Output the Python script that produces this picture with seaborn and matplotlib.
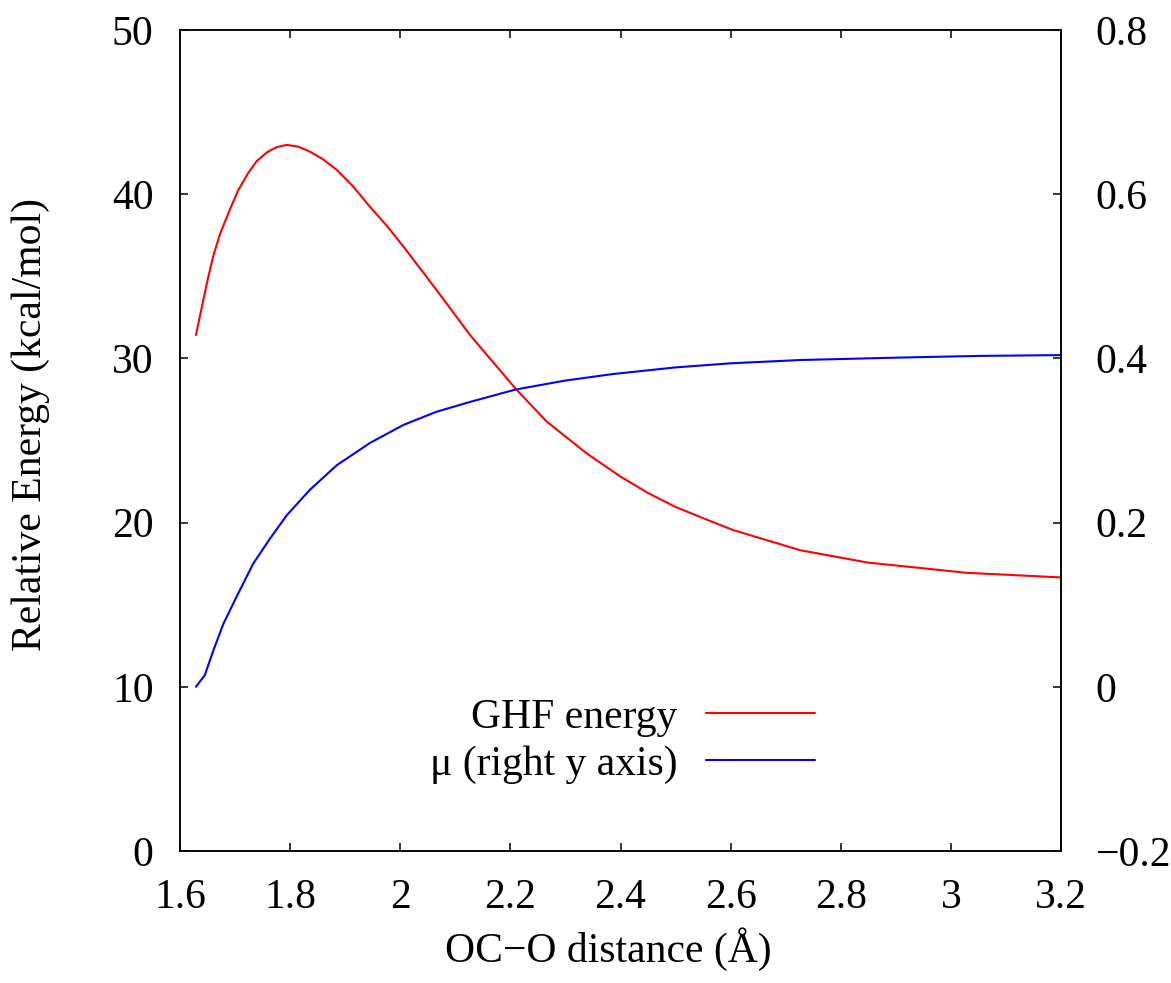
import matplotlib
matplotlib.use("Agg")
import matplotlib.pyplot as plt
from matplotlib.ticker import FuncFormatter
import seaborn as sns
import pandas as pd

# GHF relative energy along the OC-O stretch (kcal/mol)
dist_energy = [1.629, 1.642, 1.651, 1.661, 1.673, 1.691, 1.706, 1.724, 1.739,
               1.758, 1.776, 1.794, 1.815, 1.836, 1.860, 1.885, 1.915, 1.945,
               1.976, 2.006, 2.066, 2.127, 2.209, 2.266, 2.339, 2.40, 2.45,
               2.50, 2.555, 2.605, 2.726, 2.848, 3.029, 3.2]
ghf_energy = [31.42, 33.50, 34.90, 36.30, 37.60, 39.10, 40.25, 41.30, 42.00,
              42.55, 42.87, 43.00, 42.89, 42.59, 42.12, 41.47, 40.45, 39.23,
              38.06, 36.80, 34.16, 31.41, 28.17, 26.15, 24.20, 22.80, 21.80,
              20.95, 20.20, 19.54, 18.32, 17.57, 16.94, 16.66]

# mu along the same coordinate (right axis)
dist_mu = [1.629, 1.645, 1.661, 1.679, 1.703, 1.733, 1.764, 1.794, 1.836,
           1.885, 1.945, 2.006, 2.066, 2.127, 2.209, 2.30, 2.387, 2.50,
           2.60, 2.726, 2.908, 3.05, 3.2]
mu_values = [0.0, 0.014, 0.045, 0.077, 0.110, 0.150, 0.181, 0.209, 0.240,
             0.270, 0.297, 0.319, 0.335, 0.347, 0.362, 0.373, 0.381, 0.389,
             0.394, 0.398, 0.401, 0.403, 0.404]

x_ticks = [1.6, 1.8, 2.0, 2.2, 2.4, 2.6, 2.8, 3.0, 3.2]
y_ticks = [0, 10, 20, 30, 40, 50]
y2_ticks = [-0.2, 0.0, 0.2, 0.4, 0.6, 0.8]

sns.set_theme(style="ticks")
plt.rcParams["font.family"] = ["Liberation Serif", "DejaVu Serif"]
plt.rcParams["axes.unicode_minus"] = True
plt.rcParams["text.color"] = "black"
plt.rcParams["axes.labelcolor"] = "black"
plt.rcParams["xtick.color"] = "black"
plt.rcParams["ytick.color"] = "black"
plt.rcParams["axes.edgecolor"] = "black"

FS = 30

fig = plt.figure(figsize=(11.71, 9.83), dpi=100)
ax = fig.add_axes([0.1537, 0.1343, 0.9061 - 0.1537, 0.9695 - 0.1343])
ax2 = ax.twinx()

df_e = pd.DataFrame({"d": dist_energy, "E": ghf_energy})
df_m = pd.DataFrame({"d": dist_mu, "mu": mu_values})

sns.lineplot(data=df_e, x="d", y="E", ax=ax, color="#ff0000", lw=1.5,
             label="GHF energy", legend=False)
sns.lineplot(data=df_m, x="d", y="mu", ax=ax2, color="#0000ff", lw=1.5,
             label="μ (right y axis)", legend=False)

ax.set_xlim(1.6, 3.2)
ax.set_ylim(0, 50)
ax2.set_ylim(-0.2, 0.8)
ax.set_xticks(x_ticks)
ax.set_yticks(y_ticks)
ax2.set_yticks(y2_ticks)


def fmt(v, _pos):
    return ("%g" % round(v, 6)).replace("-", "\u2212")


for a in (ax.xaxis, ax.yaxis, ax2.yaxis):
    a.set_major_formatter(FuncFormatter(fmt))

for a in (ax, ax2):
    for sp in a.spines.values():
        sp.set_visible(True)
        sp.set_linewidth(1.1)
        sp.set_color("black")

ax.tick_params(axis="x", which="major", direction="in", length=6, width=1.1,
               labelsize=FS, pad=20, top=True, bottom=True, colors="black")
ax.tick_params(axis="y", which="major", direction="in", length=6, width=1.1,
               labelsize=FS, pad=19, left=True, right=False, colors="black")
ax2.tick_params(axis="y", which="major", direction="in", length=6, width=1.1,
                labelsize=FS, pad=25, right=True, left=False, colors="black")

ax.set_xlabel("OC\u2212O distance (Å)", fontsize=FS, color="black")
ax.set_ylabel("Relative Energy (kcal/mol)", fontsize=FS, color="black")
ax2.set_ylabel("")
ax.xaxis.set_label_coords(0.486, -0.093)
ax.yaxis.set_label_coords(-0.148, 0.519)

handles = ax.get_legend_handles_labels()[0] + ax2.get_legend_handles_labels()[0]
labels = ax.get_legend_handles_labels()[1] + ax2.get_legend_handles_labels()[1]
leg = ax2.legend(handles, labels, loc="center right",
                 bbox_to_anchor=(0.721, 0.134), frameon=False,
                 markerfirst=False, fontsize=FS, handlelength=2.63,
                 handletextpad=0.67, labelspacing=0.2, borderpad=0,
                 borderaxespad=0, labelcolor="black")

fig.savefig("out.png", dpi=100)
